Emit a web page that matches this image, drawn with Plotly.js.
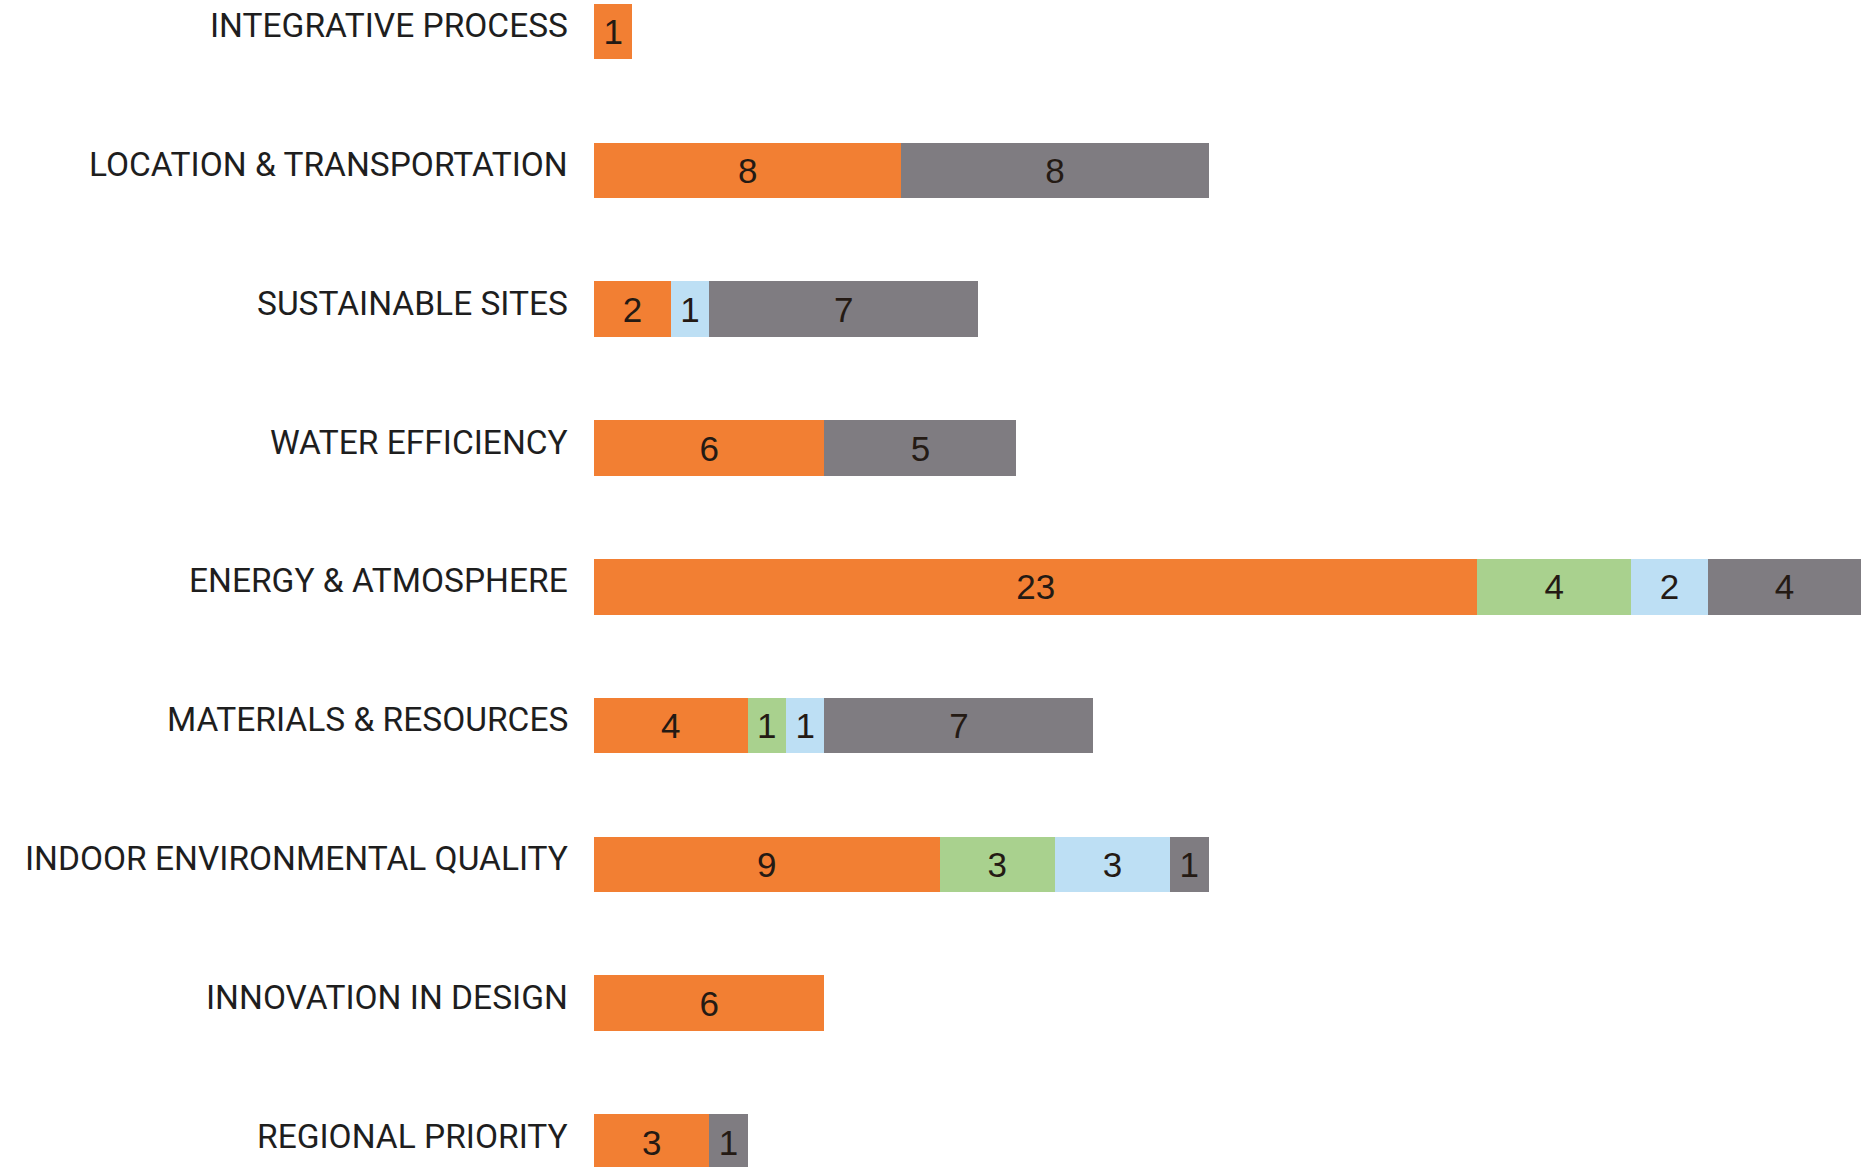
<!DOCTYPE html>
<html><head><meta charset="utf-8">
<script src="https://cdn.plot.ly/plotly-3.0.1.min.js"></script>
<style>html,body{margin:0;padding:0;background:#fff;}#chart{width:1871px;height:1167px;}</style>
</head><body><div id="chart"></div>
<script>
const categories = ["INTEGRATIVE PROCESS","LOCATION & TRANSPORTATION","SUSTAINABLE SITES","WATER EFFICIENCY","ENERGY & ATMOSPHERE","MATERIALS & RESOURCES","INDOOR ENVIRONMENTAL QUALITY","INNOVATION IN DESIGN","REGIONAL PRIORITY"];
const orangeVals = [1,8,2,6,23,4,9,6,3];
const greenVals  = [0,0,0,0,4,1,3,0,0];
const blueVals   = [0,0,1,0,2,1,3,0,0];
const grayVals   = [0,8,7,5,4,7,1,0,1];
const seriesColors = ["#F27F33","#A9D18E","#BDDFF4","#7F7C81"];

const allSeries = [orangeVals, greenVals, blueVals, grayVals];
const traces = allSeries.map((vals, i) => ({
  type: "bar", orientation: "h",
  y: categories.map((c, j) => j), x: vals,
  text: vals.map(v => v ? String(v) : ""),
  textposition: "inside", insidetextanchor: "middle", textangle: 0,
  constraintext: "none",
  insidetextfont: {family: "Liberation Sans, Arial, sans-serif", size: 35, color: "#241a14"},
  marker: {color: seriesColors[i], line: {width: 0}},
  width: 0.4, hoverinfo: "skip", showlegend: false
}));

const annotations = categories.map((c, j) => ({
  x: 0, y: j, xref: "x", yref: "y", text: c, showarrow: false,
  xanchor: "right", yanchor: "middle", xshift: -24, yshift: 6,
  font: {family: "Roboto, sans-serif", size: 33.5, color: "#1e1e1e"}
}));

Plotly.newPlot("chart", traces, {
  barmode: "stack", width: 1871, height: 1167,
  margin: {l: 594, r: 0, t: 0, b: 0},
  paper_bgcolor: "#fff", plot_bgcolor: "#fff",
  xaxis: {range: [0, 33.25], visible: false, fixedrange: true},
  yaxis: {range: [8.18, -0.228], visible: false, fixedrange: true},
  annotations: annotations
}, {displayModeBar: false, staticPlot: true});
</script></body></html>
